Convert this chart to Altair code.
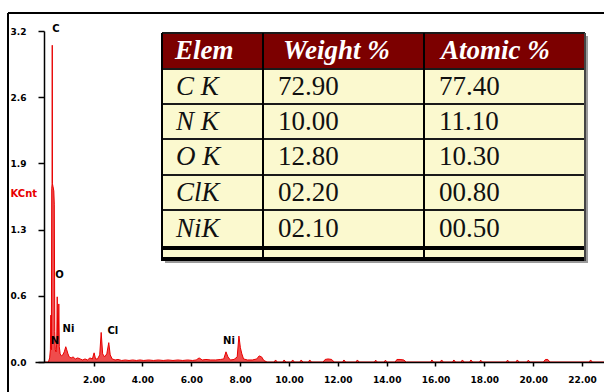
import altair as alt
import pandas as pd

# ---------------------------------------------------------------------------
# EDS spectrum: photon energy (keV) and intensity (KCnt)
# ---------------------------------------------------------------------------
energy_kev = [
    0.00, 0.15, 0.20, 0.23, 0.25, 0.27, 0.285, 0.300, 0.307, 0.314,
    0.34, 0.37, 0.39, 0.41, 0.43, 0.46, 0.49, 0.51, 0.53, 0.555,
    0.575, 0.595, 0.63, 0.68, 0.74, 0.80, 0.86, 0.90, 0.95, 1.00,
    1.08, 1.16, 1.25, 1.35, 1.45, 1.55, 1.65, 1.75, 1.85, 1.95,
    2.02, 2.08, 2.16, 2.25, 2.31, 2.37, 2.45, 2.54, 2.62, 2.68,
    2.76, 2.88, 3.00, 3.15, 3.30, 3.45, 3.60, 3.75, 3.90, 4.05,
    4.25, 4.45, 4.65, 4.85, 5.05, 5.25, 5.45, 5.65, 5.85, 6.05,
    6.20, 6.32, 6.45, 6.60, 6.80, 7.00, 7.20, 7.33, 7.42, 7.50,
    7.60, 7.75, 7.88, 7.95, 8.01, 8.07, 8.14, 8.30, 8.50, 8.68,
    8.78, 8.88, 8.97, 9.10,
    9.40, 9.45, 9.52, 9.75, 9.80, 9.87, 10.10, 10.15, 10.22, 10.45,
    10.50, 10.57, 10.80, 10.85, 10.92, 11.40, 11.48, 11.60, 11.75, 11.85,
    12.20, 12.25, 12.32, 12.75, 12.80, 12.87, 13.50, 13.55, 13.62, 13.90,
    13.95, 14.02, 14.35, 14.42, 14.55, 14.70, 14.80, 15.80, 15.85, 15.92,
    16.20, 16.25, 16.32, 16.70, 16.75, 16.82, 17.05, 17.10, 17.17, 17.40,
    17.45, 17.52, 17.80, 17.85, 17.92, 18.90, 18.95, 19.02, 19.30, 19.35,
    19.42, 19.75, 19.80, 19.87, 20.42, 20.50, 20.60, 20.68, 22.30, 22.35,
    22.42, 22.90,
]
counts_kcnt = [
    0.00, 0.00, 0.04, 0.12, 0.46, 0.12, 1.70, 1.75, 3.11, 1.75,
    1.72, 1.68, 1.55, 0.30, 0.12, 0.10, 0.18, 0.64, 0.22, 0.25,
    0.57, 0.15, 0.08, 0.06, 0.07, 0.10, 0.15, 0.12, 0.08, 0.05,
    0.04, 0.05, 0.03, 0.04, 0.03, 0.02, 0.03, 0.02, 0.04, 0.03,
    0.09, 0.03, 0.03, 0.07, 0.29, 0.08, 0.05, 0.08, 0.19, 0.07,
    0.03, 0.02, 0.025, 0.015, 0.02, 0.015, 0.02, 0.015, 0.02, 0.015,
    0.02, 0.015, 0.02, 0.015, 0.02, 0.015, 0.02, 0.015, 0.02, 0.015,
    0.02, 0.04, 0.02, 0.025, 0.02, 0.02, 0.025, 0.03, 0.10, 0.05,
    0.02, 0.025, 0.05, 0.255, 0.14, 0.08, 0.03, 0.02, 0.02, 0.03,
    0.06, 0.05, 0.015, 0.00,
    0.00, 0.02, 0.00, 0.00, 0.02, 0.00, 0.00, 0.02, 0.00, 0.00,
    0.02, 0.00, 0.00, 0.02, 0.00, 0.00, 0.025, 0.03, 0.025, 0.00,
    0.00, 0.02, 0.00, 0.00, 0.02, 0.00, 0.00, 0.018, 0.00, 0.00,
    0.018, 0.00, 0.00, 0.025, 0.025, 0.02, 0.00, 0.00, 0.02, 0.00,
    0.00, 0.02, 0.00, 0.00, 0.02, 0.00, 0.00, 0.02, 0.00, 0.00,
    0.02, 0.00, 0.00, 0.018, 0.00, 0.00, 0.018, 0.00, 0.00, 0.02,
    0.00, 0.00, 0.018, 0.00, 0.00, 0.025, 0.025, 0.00, 0.00, 0.02,
    0.00, 0.00,
]

# peak identification labels
peak_names = ["C", "O", "Ni", "N", "Cl", "Ni"]
peak_energy = [0.46, 0.60, 0.97, 0.42, 2.79, 7.54]
peak_height = [3.27, 0.85, 0.32, 0.205, 0.30, 0.21]

# axes
x_ticks = [2, 4, 6, 8, 10, 12, 14, 16, 18, 20, 22]
y_ticks = [0, 0.65, 1.3, 1.95, 2.6, 3.25]
y_tick_labels = ["0.0", "0.6", "1.3", "1.9", "2.6", "3.2"]

# quantification results
table_header = ["Elem", "Weight %", "Atomic %"]
table_elements = ["C K", "N K", "O K", "ClK", "NiK"]
weight_pct = [72.90, 10.00, 12.80, 2.20, 2.10]
atomic_pct = [77.40, 11.10, 10.30, 0.80, 0.50]

# ---------------------------------------------------------------------------
# layout / style
# ---------------------------------------------------------------------------
PLOT_W, PLOT_H = 569, 331
RED = "#e80000"
MAROON = "#7c0000"
CREAM = "#fbf9cf"
AXIS_FONT = "DejaVu Sans"
TABLE_FONT = "Liberation Serif"

# table geometry in pixels, relative to the table's top-left corner
TABLE_X0, TABLE_Y0 = 127, 2
col_edges = [0, 101, 262, 423]
row_edges = [0, 36, 71, 106, 142, 177, 215]
TABLE_BOTTOM = 228
header_pad = [13, 20, 17]
body_pad = [14, 15, 15]

tx = alt.Scale(domain=[0, 430], range=[TABLE_X0, TABLE_X0 + 430])
ty = alt.Scale(domain=[0, 240], range=[TABLE_Y0, TABLE_Y0 + 240])

# ---------------------------------------------------------------------------
# spectrum
# ---------------------------------------------------------------------------
spec = pd.DataFrame({"energy": energy_kev, "counts": counts_kcnt})
labels = pd.DataFrame({"name": peak_names, "energy": peak_energy, "h": peak_height})

label_expr = "[" + ",".join(f"'{s}'" for s in y_tick_labels) + "][round(datum.value / 0.65)]"

x_enc = alt.X(
    "energy:Q",
    scale=alt.Scale(domain=[-0.4, 22.9], nice=False, zero=False),
    axis=alt.Axis(
        values=x_ticks, format=".2f", title=None, grid=False,
        tickSize=4, labelPadding=9, zindex=1,
    ),
)
y_enc = alt.Y(
    "counts:Q",
    scale=alt.Scale(domain=[0, 3.25], nice=False),
    axis=alt.Axis(
        values=y_ticks, labelExpr=label_expr, grid=False, offset=-9,
        tickSize=6, labelAlign="left", labelPadding=28, labelBaseline="middle",
        title="KCnt", titleColor=RED, titleFont=AXIS_FONT, titleFontWeight="bold",
        titleFontSize=10, titleAngle=0, titleAlign="left", titleBaseline="middle",
        titleX=-34, titleY=162, zindex=1,
    ),
)

area = alt.Chart(spec).mark_area(
    color=RED, interpolate="linear", line={"color": RED, "strokeWidth": 1}
).encode(x=x_enc, y=y_enc)

peak_text = alt.Chart(labels).mark_text(
    font=AXIS_FONT, fontWeight="bold", fontSize=10, color="black",
    align="center", baseline="middle",
).encode(x="energy:Q", y="h:Q", text="name:N")

spectrum = alt.layer(area, peak_text)

# ---------------------------------------------------------------------------
# quantification table drawn on top of the plot
# ---------------------------------------------------------------------------
cells = []
for r in range(len(row_edges) - 1):
    for c in range(len(col_edges) - 1):
        cells.append({
            "x0": col_edges[c], "x1": col_edges[c + 1],
            "y0": row_edges[r], "y1": row_edges[r + 1],
            "kind": "head" if r == 0 else "body",
        })
cells.append({"x0": 0, "x1": col_edges[-1], "y0": row_edges[-1],
              "y1": TABLE_BOTTOM, "kind": "body"})
cells = pd.DataFrame(cells)

shadow = alt.Chart(pd.DataFrame({
    "x0": [3], "x1": [col_edges[-1] + 3], "y0": [3], "y1": [TABLE_BOTTOM + 2]
})).mark_rect(color="#9a9a9a").encode(
    x=alt.X("x0:Q", scale=tx, axis=None), x2="x1:Q",
    y=alt.Y("y0:Q", scale=ty, axis=None), y2="y1:Q",
)

cell_rects = alt.Chart(cells).mark_rect().encode(
    x=alt.X("x0:Q", scale=tx, axis=None), x2="x1:Q",
    y=alt.Y("y0:Q", scale=ty, axis=None), y2="y1:Q",
    color=alt.Color("kind:N", scale=alt.Scale(domain=["head", "body"],
                                              range=[MAROON, CREAM]), legend=None),
)

lines = []
for yy in row_edges[:-1]:
    lines.append({"x0": 0, "x1": col_edges[-1], "y0": yy, "y1": yy, "w": 2, "c": "#1a1a1a"})
for yy in (row_edges[-1], TABLE_BOTTOM - 2):
    lines.append({"x0": 0, "x1": col_edges[-1], "y0": yy, "y1": yy, "w": 4, "c": "#000000"})
for xx in col_edges[:-1]:
    lines.append({"x0": xx, "x1": xx, "y0": 0, "y1": TABLE_BOTTOM, "w": 2, "c": "#000000"})
lines.append({"x0": col_edges[-1], "x1": col_edges[-1], "y0": 0, "y1": TABLE_BOTTOM,
              "w": 2, "c": "#444444"})
lines = pd.DataFrame(lines)

grid_rules = alt.Chart(lines).mark_rule().encode(
    x=alt.X("x0:Q", scale=tx, axis=None), x2="x1:Q",
    y=alt.Y("y0:Q", scale=ty, axis=None), y2="y1:Q",
    strokeWidth=alt.StrokeWidth("w:Q", scale=None),
    color=alt.Color("c:N", scale=None),
)

header_df = pd.DataFrame({
    "x": [col_edges[i] + header_pad[i] for i in range(3)],
    "y": [(row_edges[0] + row_edges[1]) / 2] * 3,
    "t": table_header,
})
body_rows = []
for i, (el, w, a) in enumerate(zip(table_elements, weight_pct, atomic_pct)):
    yc = (row_edges[i + 1] + row_edges[i + 2]) / 2
    body_rows.append({"x": col_edges[0] + body_pad[0], "y": yc, "t": el, "k": "el"})
    body_rows.append({"x": col_edges[1] + body_pad[1], "y": yc, "t": f"{w:05.2f}", "k": "num"})
    body_rows.append({"x": col_edges[2] + body_pad[2], "y": yc, "t": f"{a:05.2f}", "k": "num"})
body_df = pd.DataFrame(body_rows)


def table_text(df, **style):
    return alt.Chart(df).mark_text(
        font=TABLE_FONT, fontSize=27, align="left", baseline="middle", **style
    ).encode(
        x=alt.X("x:Q", scale=tx, axis=None),
        y=alt.Y("y:Q", scale=ty, axis=None),
        text="t:N",
    )


header_text = table_text(header_df, fontStyle="italic", fontWeight="bold", color="white")
elem_text = table_text(body_df[body_df.k == "el"], fontStyle="italic", color="#111111")
num_text = table_text(body_df[body_df.k == "num"], color="#111111")

table = alt.layer(shadow, cell_rects, grid_rules, header_text, elem_text, num_text)

# ---------------------------------------------------------------------------
# outer frame (top and left border lines)
# ---------------------------------------------------------------------------
frame_top = alt.Chart().mark_rule(color="black", strokeWidth=2).encode(
    x=alt.value(-27), x2=alt.value(PLOT_W + 10), y=alt.value(-18)
)
frame_left = alt.Chart().mark_rule(color="black", strokeWidth=2).encode(
    x=alt.value(-27), y=alt.value(-18), y2=alt.value(PLOT_H + 40)
)

chart = alt.layer(frame_top, frame_left, spectrum, table).resolve_scale(
    x="independent", y="independent", color="independent"
).properties(
    width=PLOT_W, height=PLOT_H,
    autosize=alt.AutoSizeParams(type="none"),
    padding={"left": 35, "top": 31, "right": 0, "bottom": 30},
    background="white",
).configure_view(stroke=None).configure_axis(
    domainColor="black", domainWidth=1.5, tickColor="black", tickWidth=1.5,
    labelFont=AXIS_FONT, labelFontWeight="bold", labelFontSize=9, labelColor="black",
)

chart.save("out.html", embed_options={"renderer": "svg", "actions": False})
